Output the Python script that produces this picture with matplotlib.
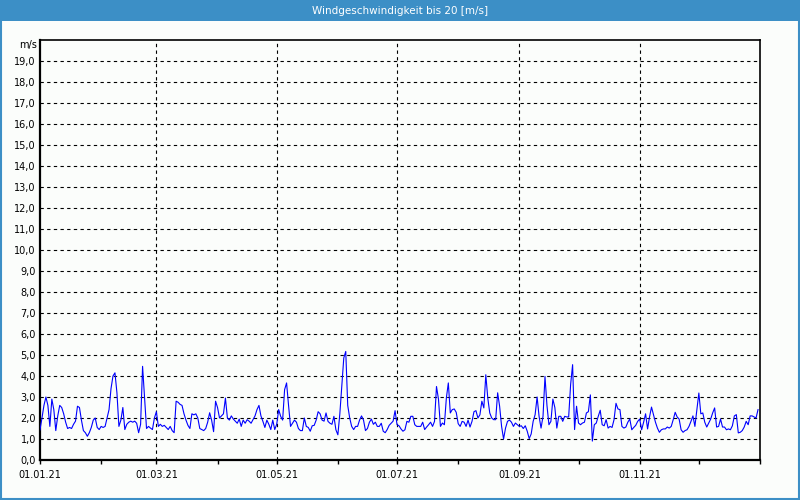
import matplotlib
matplotlib.use("Agg")
import matplotlib.pyplot as plt
import matplotlib.dates as mdates
from matplotlib.patches import Rectangle
import numpy as np
import pandas as pd

TITLE = "Windgeschwindigkeit bis 20 [m/s]"
START_DATE = "2021-01-01"
TICK_DATES = ["2021-01-01", "2021-03-01", "2021-05-01", "2021-07-01", "2021-09-01", "2021-11-01"]
TICK_LABELS = ["01.01.21", "01.03.21", "01.05.21", "01.07.21", "01.09.21", "01.11.21"]
Y_TICKS = list(range(0, 20))
Y_UNIT = "m/s"

# daily wind speed [m/s], in six blocks
jan_feb = [
    1.44, 2.0, 2.6, 3.0, 2.6, 1.6, 2.9, 2.4, 1.4, 2.1,
    2.6, 2.5, 2.2, 1.8, 1.5, 1.55, 1.5, 1.7, 1.85, 2.56,
    2.5, 1.9, 1.4, 1.3, 1.13, 1.3, 1.55, 1.9, 2.0, 1.55,
    1.45, 1.6, 1.55, 1.6, 2.0, 2.4, 3.4, 4.0, 4.15, 3.2,
    1.6, 1.9, 2.5, 1.45, 1.7, 1.8, 1.85, 1.8, 1.85, 1.75,
    1.3, 1.7, 4.46, 3.0, 1.5, 1.6, 1.52, 1.45, 2.0, 2.3,
    1.6,
]
mar_apr = [
    1.7, 1.6, 1.65, 1.55, 1.45, 1.6, 1.4, 1.3, 2.8, 2.75,
    2.65, 2.6, 2.2, 1.9, 1.65, 1.5, 2.2, 2.15, 2.2, 2.0,
    1.5, 1.45, 1.4, 1.5, 1.8, 2.25, 1.9, 1.35, 2.8, 2.5,
    2.0, 2.1, 2.2, 2.95, 2.0, 1.9, 2.1, 1.95, 1.85, 1.75,
    1.95, 1.6, 1.9, 1.75, 1.92, 1.85, 1.75, 1.92, 2.1, 2.4,
    2.6, 2.1, 1.84, 1.55, 1.9, 1.7, 1.45, 1.9, 1.45, 1.7,
]
may_jun = [
    2.4, 2.08, 1.9, 3.35, 3.67, 2.6, 1.6, 1.75, 1.9, 1.8,
    1.5, 1.4, 1.4, 2.0, 1.6, 1.55, 1.37, 1.63, 1.65, 1.9,
    2.3, 2.2, 1.9, 1.85, 2.24, 1.84, 1.75, 1.7, 2.08, 1.44,
    1.2, 2.2, 3.5, 4.86, 5.17, 2.6, 2.0, 1.6, 1.45, 1.6,
    1.6, 1.9, 2.1, 1.9, 1.4, 1.5, 1.8, 1.95, 1.7, 1.8,
    1.6, 1.6, 1.75, 1.37, 1.3, 1.45, 1.65, 1.75, 1.85, 2.35,
    1.68,
]
jul_aug = [
    1.63, 1.48, 1.37, 1.44, 1.84, 1.8, 2.08, 2.08, 1.68, 1.6,
    1.6, 1.6, 1.8, 1.45, 1.57, 1.68, 1.8, 1.6, 1.84, 3.5,
    2.9, 1.6, 1.76, 1.68, 2.95, 3.67, 2.24, 2.4, 2.43, 2.27,
    1.73, 1.6, 1.84, 1.8, 1.6, 1.9, 1.57, 1.84, 2.3, 2.35,
    2.0, 2.15, 2.8, 2.48, 4.06, 2.95, 2.24, 2.0, 1.92, 1.92,
    3.2, 2.56, 1.6, 1.0, 1.52, 1.84, 1.9, 1.8, 1.6, 1.76,
    1.68, 1.6,
]
sep_oct = [
    1.63, 1.5, 1.63, 1.37, 1.02, 1.24, 1.84, 2.16, 3.0, 2.08,
    1.52, 2.08, 3.98, 2.6, 1.68, 1.84, 2.9, 2.5, 1.52, 2.08,
    2.08, 1.84, 2.08, 2.05, 2.05, 3.6, 4.54, 1.45, 2.56, 1.76,
    1.68, 1.76, 1.8, 2.24, 2.3, 3.1, 0.9, 1.68, 1.76, 2.08,
    2.37, 1.68, 1.63, 1.92, 1.52, 1.6, 1.55, 1.92, 2.7, 2.43,
    2.4, 1.6, 1.52, 1.57, 1.8, 1.95, 1.44, 1.55, 1.65, 1.84,
    1.95,
]
nov_dec = [
    1.44, 1.8, 2.2, 1.48, 2.05, 2.52, 2.16, 1.8, 1.52, 1.32,
    1.44, 1.48, 1.48, 1.57, 1.52, 1.6, 1.92, 2.27, 2.05, 1.95,
    1.44, 1.32, 1.4, 1.44, 1.6, 1.84, 2.1, 1.6, 2.4, 3.19,
    2.2, 2.24, 1.8, 1.57, 1.76, 1.95, 2.24, 2.48, 1.57, 1.6,
    1.95, 1.57, 1.57, 1.44, 1.48, 1.44, 1.63, 2.1, 2.16, 1.29,
    1.32, 1.4, 1.57, 1.84, 1.68, 2.1, 2.1, 2.05, 2.0, 2.4,
]

BLUE_FRAME = "#3c8fc6"
BG = "#fbfdfb"


def main() -> None:
    speed = np.array(jan_feb + mar_apr + may_jun + jul_aug + sep_oct + nov_dec)
    dates = pd.date_range(START_DATE, periods=len(speed), freq="D")

    fig = plt.figure(figsize=(8, 5), dpi=100, facecolor=BG)
    ax = fig.add_axes([0.05, 0.08, 0.90, 0.84], facecolor=BG)

    # title bar and thin blue frame
    fig.patches.append(Rectangle((0, 1 - 21 / 500), 1, 21 / 500, transform=fig.transFigure,
                                 facecolor=BLUE_FRAME, edgecolor="none", zorder=0))
    fig.patches.append(Rectangle((0.001, 0.002), 0.998, 0.996, transform=fig.transFigure,
                                 facecolor="none", edgecolor=BLUE_FRAME, linewidth=1.5, zorder=1))
    fig.text(0.5, 1 - 10.5 / 500, TITLE, ha="center", va="center", color="white",
             fontsize=7.5)

    ax.plot(dates, speed, color="#0000ff", linewidth=0.8, zorder=3)

    ax.set_xlim(pd.Timestamp("2021-01-01"), pd.Timestamp("2022-01-01"))
    ax.set_ylim(0, 20)

    ax.set_yticks(Y_TICKS)
    ax.set_yticklabels([f"{v},0" for v in Y_TICKS], fontsize=7)
    ax.tick_params(axis="y", length=0, pad=3)
    ax.text(-0.004, 19.75, Y_UNIT, transform=ax.get_yaxis_transform(),
            ha="right", va="center", fontsize=7)

    ax.set_xticks(pd.to_datetime(TICK_DATES))
    ax.set_xticklabels(TICK_LABELS, fontsize=7)
    ax.xaxis.set_minor_locator(mdates.MonthLocator())
    ax.tick_params(axis="x", which="both", length=3, width=1, pad=4, direction="out")

    for v in Y_TICKS[1:]:
        ax.axhline(v, color="black", linewidth=0.8, linestyle=(0, (3, 3)), zorder=1)
    for d in TICK_DATES[1:]:
        ax.axvline(pd.Timestamp(d), color="black", linewidth=0.8, linestyle=(0, (3, 3)), zorder=1)

    for side in ["left", "bottom"]:
        ax.spines[side].set_linewidth(1.6)
    for side in ["top", "right"]:
        ax.spines[side].set_linewidth(1.2)

    fig.savefig("out.png", dpi=100, facecolor=BG)


if __name__ == "__main__":
    main()
